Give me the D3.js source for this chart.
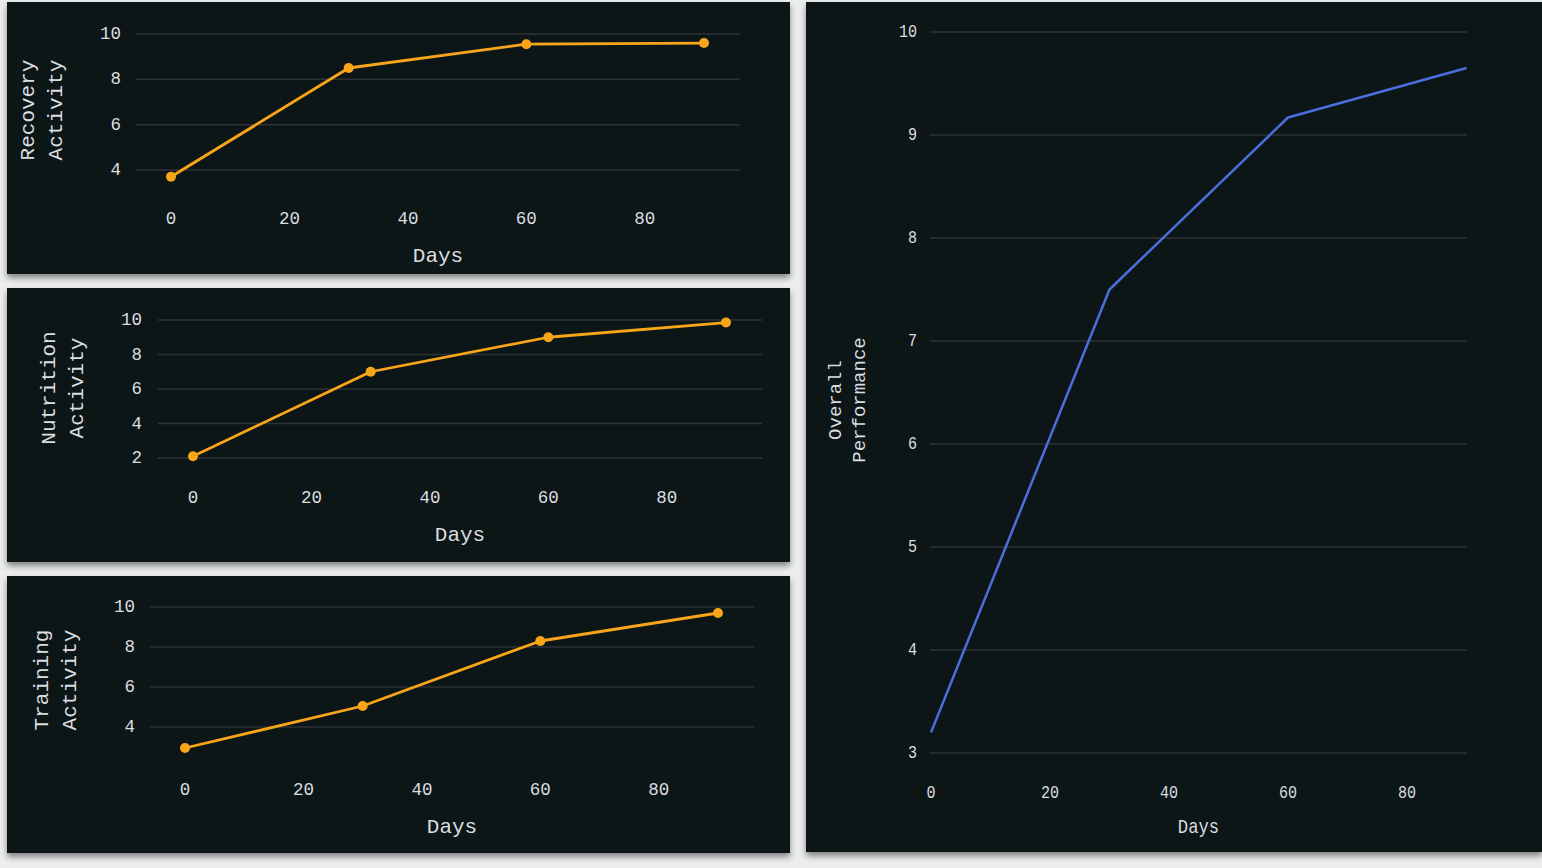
<!DOCTYPE html>
<html>
<head>
<meta charset="utf-8">
<script src="https://cdn.jsdelivr.net/npm/d3@7"></script>
<style>
  html, body { margin: 0; padding: 0; background: #eceeee; overflow: hidden; }
  svg { display: block; }
  text { font-family: "Liberation Mono", "DejaVu Sans Mono", monospace; fill: #dcdde0; }
</style>
</head>
<body>
<svg id="chart" width="1542" height="868"></svg>
<script>
// ---- data ----
const days = [0, 30, 60, 90];
const recoveryActivity = [3.7, 8.5, 9.55, 9.6];
const nutritionActivity = [2.1, 7.0, 9.0, 9.85];
const trainingActivity = [2.95, 5.05, 8.3, 9.7];
const overallPerformance = [3.2, 7.5, 9.17, 9.65];

const xTicks = [0, 20, 40, 60, 80];
const recoveryTicks = [4, 6, 8, 10];
const nutritionTicks = [2, 4, 6, 8, 10];
const trainingTicks = [4, 6, 8, 10];
const overallTicks = [3, 4, 5, 6, 7, 8, 9, 10];

const xTitle = "Days";

// ---- layout ----
const panels = [
  { values: recoveryActivity, yTicks: recoveryTicks, title: ["Recovery", "Activity"],
    rect: [7, 2, 783, 272], x0: 171, x1: 704, gx0: 136, gx1: 740,
    yDom: [4, 10], yRng: [170, 34], tickPad: 15, xLabY: 218.5, daysY: 256.5,
    titleX: [28, 56], titleY: 110, color: "#f9a51a", dots: true, sx: 1, titleSize: 21 },
  { values: nutritionActivity, yTicks: nutritionTicks, title: ["Nutrition", "Activity"],
    rect: [7, 288, 783, 274], x0: 193, x1: 726, gx0: 158, gx1: 762,
    yDom: [2, 10], yRng: [458, 320], tickPad: 16, xLabY: 497.5, daysY: 535.5,
    titleX: [49, 77], titleY: 388, color: "#f9a51a", dots: true, sx: 1, titleSize: 21 },
  { values: trainingActivity, yTicks: trainingTicks, title: ["Training", "Activity"],
    rect: [7, 576, 783, 277], x0: 185, x1: 718, gx0: 150, gx1: 754,
    yDom: [4, 10], yRng: [727, 607], tickPad: 15, xLabY: 789.5, daysY: 827.5,
    titleX: [42, 70], titleY: 680, color: "#f9a51a", dots: true, sx: 1, titleSize: 21 },
  { values: overallPerformance, yTicks: overallTicks, title: ["Overall", "Performance"],
    rect: [806, 2, 736, 850], x0: 931, x1: 1466.5, gx0: 930, gx1: 1467,
    yDom: [3, 10], yRng: [753, 32], tickPad: 13, xLabY: 793.5, daysY: 827.5,
    titleX: [836, 860], titleY: 400, color: "#4a6fdc", dots: false, sx: 0.86, titleSize: 19 }
];

const svg = d3.select("#chart");
const defs = svg.append("defs");
const f = defs.append("filter").attr("id", "shadow")
  .attr("x", "-5%").attr("y", "-5%").attr("width", "110%").attr("height", "115%");
f.append("feDropShadow").attr("dx", 0).attr("dy", 4).attr("stdDeviation", 3)
  .attr("flood-color", "#000").attr("flood-opacity", 0.45);

panels.forEach(p => {
  const g = svg.append("g");
  g.append("rect")
    .attr("x", p.rect[0]).attr("y", p.rect[1])
    .attr("width", p.rect[2]).attr("height", p.rect[3])
    .attr("fill", "#111218")
    .attr("filter", "url(#shadow)");

  const x = d3.scaleLinear().domain([0, 90]).range([p.x0, p.x1]);
  const y = d3.scaleLinear().domain(p.yDom).range(p.yRng);

  // gridlines
  g.append("g").selectAll("line").data(p.yTicks).join("line")
    .attr("x1", p.gx0).attr("x2", p.gx1)
    .attr("y1", d => y(d)).attr("y2", d => y(d))
    .attr("stroke", "#2f3139").attr("stroke-width", 1.5);

  // y tick labels
  g.append("g").selectAll("text").data(p.yTicks).join("text")
    .attr("text-anchor", "end")
    .attr("dominant-baseline", "central")
    .attr("font-size", 17.5)
    .attr("transform", d => `translate(${p.gx0 - p.tickPad},${y(d)}) scale(${p.sx},1)`)
    .text(d => d);

  // x tick labels
  g.append("g").selectAll("text").data(xTicks).join("text")
    .attr("text-anchor", "middle")
    .attr("dominant-baseline", "central")
    .attr("font-size", 17.5)
    .attr("transform", d => `translate(${x(d)},${p.xLabY}) scale(${p.sx},1)`)
    .text(d => d);

  // x title
  g.append("text")
    .attr("text-anchor", "middle")
    .attr("dominant-baseline", "central")
    .attr("font-size", p.sx < 1 ? 20 : 21)
    .attr("transform", `translate(${(p.gx0 + p.gx1) / 2},${p.daysY}) scale(${p.sx},1)`)
    .text(xTitle);

  // y title (two lines, rotated)
  p.title.forEach((t, i) => {
    g.append("text")
      .attr("text-anchor", "middle")
      .attr("dominant-baseline", "central")
      .attr("font-size", p.titleSize)
      .attr("transform", `translate(${p.titleX[i]},${p.titleY}) rotate(-90)`)
      .text(t);
  });

  const pts = days.map((d, i) => [d, p.values[i]]);
  const line = d3.line().x(d => x(d[0])).y(d => y(d[1]));
  g.append("path").datum(pts)
    .attr("d", line)
    .attr("fill", "none")
    .attr("stroke", p.color)
    .attr("stroke-width", p.dots ? 2.8 : 2.5)
    .attr("stroke-linejoin", "round");

  if (p.dots) {
    g.append("g").selectAll("circle").data(pts).join("circle")
      .attr("cx", d => x(d[0])).attr("cy", d => y(d[1]))
      .attr("r", 5).attr("fill", p.color);
  }
});
</script>
</body>
</html>
